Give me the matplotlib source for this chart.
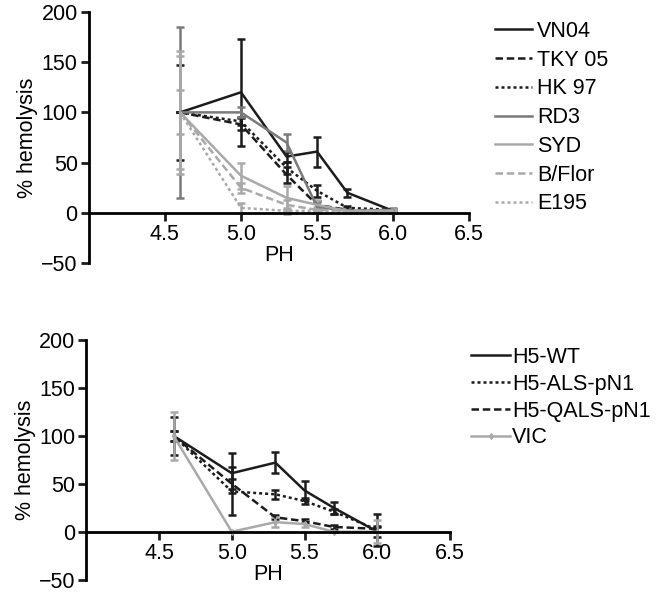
import matplotlib
matplotlib.use("Agg")
import matplotlib.pyplot as plt
from matplotlib.lines import Line2D

plt.rcParams['font.family'] = ['Liberation Sans', 'DejaVu Sans']
FS = 15.5

# pH values
ph_top = [4.6, 5.0, 5.3, 5.5, 5.7, 6.0]
ph_bot = [4.6, 5.0, 5.3, 5.5, 5.7, 6.0]

# top panel: % hemolysis and error
vn04 = [100, 120, 56, 61, 20, 2]
vn04_err = [47, 53, 5, 15, 4, 2]
tky05 = [100, 88, 38, 8, 3, 2]
tky05_err = [0, 6, 8, 4, 2, 1]
hk97 = [100, 91, 45, 22, 5, 3]
hk97_err = [0, 4, 6, 6, 2, 1]
rd3 = [100, 100, 70, 6, 2, 3]
rd3_err = [85, 5, 8, 5, 2, 2]
syd = [100, 37, 15, 8, 2, 2]
syd_err = [61, 13, 12, 5, 2, 2]
bflor = [100, 25, 8, 3, 2, 2]
bflor_err = [56, 5, 5, 3, 1, 1]
e195 = [100, 5, 2, 2, 1, 1]
e195_err = [22, 5, 3, 2, 1, 1]

# bottom panel
h5wt = [100, 61, 72, 43, 25, 0]
h5wt_err = [20, 21, 11, 10, 6, 5]
als = [100, 42, 39, 32, 21, 2]
als_err = [5, 25, 5, 3, 3, 17]
qals = [100, 50, 15, 11, 5, 3]
qals_err = [5, 5, 2, 2, 2, 3]
vic = [100, 0, 10, 8, 0, 0]
vic_err = [25, 0, 5, 3, 0, 12]

BLACK = '#1c1c1c'
DGRAY = '#7a7a7a'
LGRAY = '#a9a9a9'

top_series = [
    ('VN04', vn04, vn04_err, BLACK, '-'),
    ('TKY 05', tky05, tky05_err, BLACK, (0, (3, 1.5))),
    ('HK 97', hk97, hk97_err, BLACK, (0, (1.2, 1.2))),
    ('RD3', rd3, rd3_err, DGRAY, '-'),
    ('SYD', syd, syd_err, LGRAY, '-'),
    ('B/Flor', bflor, bflor_err, LGRAY, (0, (3, 1.5))),
    ('E195', e195, e195_err, LGRAY, (0, (1.2, 1.2))),
]

bot_series = [
    ('H5-WT', h5wt, h5wt_err, BLACK, '-', None),
    ('H5-ALS-pN1', als, als_err, BLACK, (0, (1.2, 1.2)), None),
    ('H5-QALS-pN1', qals, qals_err, BLACK, (0, (3, 1.5)), None),
    ('VIC', vic, vic_err, LGRAY, '-', 'd'),
]


def style_axes(ax):
    ax.spines['top'].set_visible(False)
    ax.spines['right'].set_visible(False)
    ax.spines['bottom'].set_position(('data', 0))
    ax.spines['left'].set_linewidth(2)
    ax.spines['bottom'].set_linewidth(2)
    ax.set_xlim(4.0, 6.5)
    ax.set_ylim(-50, 200)
    ax.set_xticks([4.5, 5.0, 5.5, 6.0, 6.5])
    ax.set_xticklabels(['4.5', '5.0', '5.5', '6.0', '6.5'])
    ax.set_yticks([-50, 0, 50, 100, 150, 200])
    ax.tick_params(width=2, length=6, labelsize=FS, color=BLACK, pad=2)
    ax.set_ylabel('% hemolysis', fontsize=FS, labelpad=2)
    ax.set_xlabel('PH', fontsize=FS, labelpad=0)


fig = plt.figure(figsize=(6.58, 5.94), dpi=100)
ax1 = fig.add_axes([0.135, 0.557, 0.578, 0.423])
ax2 = fig.add_axes([0.131, 0.024, 0.553, 0.404])

handles = []
for name, y, e, c, ls in top_series:
    ax1.errorbar(ph_top, y, yerr=e, color=c, ls=ls, lw=1.8, capsize=3,
                 capthick=1.8, elinewidth=1.8)
    handles.append(Line2D([], [], color=c, ls=ls, lw=1.8))
fig.legend(handles, [s[0] for s in top_series], loc='upper left',
           bbox_to_anchor=(0.752, 0.965), frameon=False, fontsize=FS,
           handlelength=1.75, handletextpad=0.2, labelspacing=0.36,
           borderaxespad=0, borderpad=0)

handles = []
for name, y, e, c, ls, m in bot_series:
    ax2.errorbar(ph_bot, y, yerr=e, color=c, ls=ls, lw=1.8, capsize=3,
                 capthick=1.8, elinewidth=1.8, marker=m, markersize=3)
    handles.append(Line2D([], [], color=c, ls=ls, lw=1.8, marker=m, markersize=3))
fig.legend(handles, [s[0] for s in bot_series], loc='upper left',
           bbox_to_anchor=(0.716, 0.416), frameon=False, fontsize=FS,
           handlelength=1.8, handletextpad=0.1, labelspacing=0.27,
           borderaxespad=0, borderpad=0)

for ax in (ax1, ax2):
    style_axes(ax)

fig.savefig('out.png', dpi=100)
